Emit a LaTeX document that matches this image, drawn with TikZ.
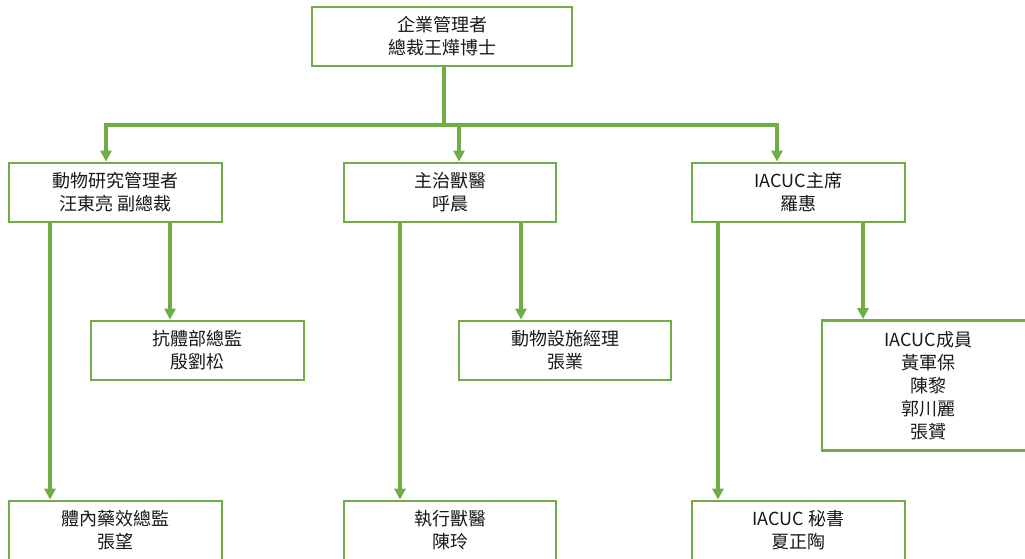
\documentclass[tikz,border=0pt]{standalone}
\usepackage{fontspec}
\setmainfont{Noto Sans CJK TC}
\usetikzlibrary{arrows.meta}
\definecolor{boxgreen}{HTML}{70AD47}
\tikzset{
  box/.style={draw=boxgreen, line width=2.8pt, fill=white, minimum width=213pt, minimum height=59pt, inner sep=0pt, align=center, font=\fontsize{18}{23}\selectfont, text=black!90},
  conn/.style={draw=boxgreen, line width=3.8pt},
  arr/.style={conn, -{Triangle[width=11pt,length=11pt]}}
}
\begin{document}
\begin{tikzpicture}[x=1pt,y=1pt]
\useasboundingbox (0,0) rectangle (1025,-559);
\fill[white] (0,0) rectangle (1025,-559);
% nodes
\node[box, minimum width=260pt] (T) at (442,-36.5) {企業管理者\\總裁王燁博士};
\node[box] (A) at (115.5,-192.5) {動物研究管理者\\汪東亮 副總裁};
\node[box, minimum width=212pt] (B) at (450,-192.5) {主治獸醫\\呼晨};
\node[box] (C) at (798.5,-192.5) {IACUC主席\\羅惠};
\node[box] (A1) at (197.5,-350.5) {抗體部總監\\殷劉松};
\node[box, minimum width=212pt] (B1) at (565,-350.5) {動物設施經理\\張業};
\node[box, minimum height=130pt] (C1) at (928.5,-385.5) {IACUC成員\\黃軍保\\陳黎\\郭川麗\\張贇};
\node[box] (A2) at (115.5,-530.5) {體內藥效總監\\張望};
\node[box, minimum width=212pt] (B2) at (450,-530.5) {執行獸醫\\陳玲};
\node[box] (C2) at (798.5,-530.5) {IACUC 秘書\\夏正陶};
% coordinates
\coordinate (bar) at (444,-125);
\coordinate (barL) at (106,-125);
\coordinate (barM) at (459,-125);
\coordinate (barR) at (777,-125);
\coordinate (xa1) at (50,0);
\coordinate (xa2) at (170,0);
\coordinate (xb1) at (400,0);
\coordinate (xb2) at (521,0);
\coordinate (xc1) at (718,0);
\coordinate (xc2) at (863,0);
% connectors
\draw[conn] (T.south -| bar) -- (bar);
\draw[conn] ([xshift=-1.9pt]barL) -- ([xshift=1.9pt]barR);
\draw[arr] (barL) -- (A.north -| barL);
\draw[arr] (barM) -- (B.north -| barM);
\draw[arr] (barR) -- (C.north -| barR);
\draw[arr] (A.south -| xa1) -- (A2.north -| xa1);
\draw[arr] (A.south -| xa2) -- (A1.north -| xa2);
\draw[arr] (B.south -| xb1) -- (B2.north -| xb1);
\draw[arr] (B.south -| xb2) -- (B1.north -| xb2);
\draw[arr] (C.south -| xc1) -- (C2.north -| xc1);
\draw[arr] (C.south -| xc2) -- (C1.north -| xc2);
\end{tikzpicture}
\end{document}
